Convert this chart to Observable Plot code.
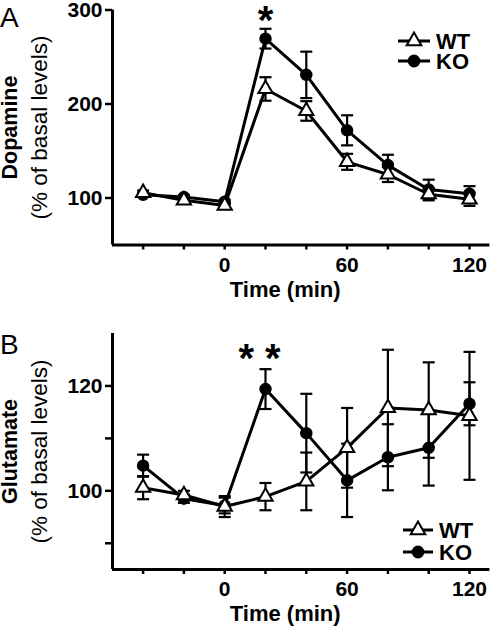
<!DOCTYPE html>
<html><head><meta charset="utf-8">
<script src="https://cdn.jsdelivr.net/npm/d3@7"></script>
<script src="https://cdn.jsdelivr.net/npm/@observablehq/plot@0.6"></script>
<style>
body{margin:0;background:#fff;}
#root{position:relative;width:492px;height:628px;background:#fff;font-family:"Liberation Sans",Arial,sans-serif;overflow:hidden;}
.panel{position:absolute;left:0;}
.legend{position:absolute;left:0;top:0;}
</style></head><body><div id="root"></div>
<script>
// ---- data ----
const times = [-40, -20, 0, 20, 40, 60, 80, 100, 120];
const xLabelTicks = [0, 60, 120];
const seriesNames = ["WT", "KO"];

// Panel A: Dopamine (% of basal levels)
const daWT    = [105.5, 97.5, 92.0, 216.0, 192.6, 138.5, 125.0, 104.0, 98.6];
const daWTsem = [2.5, 2.0, 2.0, 12.5, 10.4, 8.5, 8.0, 6.5, 7.0];
const daKO    = [103.5, 101.0, 96.0, 269.5, 231.0, 172.0, 135.0, 109.0, 104.6];
const daKOsem = [2.0, 2.0, 2.0, 10.5, 24.7, 16.0, 11.0, 10.5, 8.0];
const daYTicks = [100, 200, 300];
const daYLabels = [100, 200, 300];

// Panel B: Glutamate (% of basal levels)
const gluWT    = [100.6, 99.2, 97.0, 98.9, 101.8, 108.2, 115.8, 115.4, 114.3];
const gluWTsem = [2.2, 0.8, 2.0, 2.6, 5.5, 7.6, 11.1, 9.1, 12.2];
const gluKO    = [104.8, 98.5, 97.2, 119.4, 111.0, 102.0, 106.4, 108.2, 116.6];
const gluKOsem = [2.1, 0.8, 1.5, 3.8, 7.5, 7.0, 6.3, 7.2, 4.1];
const gluYTicks = [90, 100, 110, 120];
const gluYLabels = [100, 120];

const sigTimes = [20];
const sigA = "*";
const sigB = "* *";

const xDomain = [-55, 130];
const FONT = '"Liberation Sans", Arial, Helvetica, sans-serif';

const capSymbol = {
  draw(ctx, size) {
    const w = Math.sqrt(size / Math.PI);
    ctx.moveTo(-w, 0);
    ctx.lineTo(w, 0);
  }
};

function makePanel(cfg) {
  const rows = times.flatMap((t, i) => [
    {time: t, series: "WT", value: cfg.wt[i], sem: cfg.wtSem[i]},
    {time: t, series: "KO", value: cfg.ko[i], sem: cfg.koSem[i]}
  ]);
  const chart = Plot.plot({
    width: 492,
    height: cfg.height,
    marginLeft: 112,
    marginRight: 2.6,
    marginTop: cfg.marginTop,
    marginBottom: cfg.marginBottom,
    x: {domain: xDomain},
    y: {domain: cfg.yDomain},
    style: {fontFamily: FONT, background: "transparent", overflow: "visible", color: "black"},
    marks: [
      Plot.ruleX(rows, {x: "time", y1: d => d.value - d.sem, y2: d => d.value + d.sem, stroke: "black", strokeWidth: 2.2}),
      Plot.dot(rows, {x: "time", y: d => d.value + d.sem, symbol: capSymbol, r: 6, fill: "none", stroke: "black", strokeWidth: 2.2}),
      Plot.dot(rows, {x: "time", y: d => d.value - d.sem, symbol: capSymbol, r: 6, fill: "none", stroke: "black", strokeWidth: 2.2}),
      Plot.line(rows, {x: "time", y: "value", z: "series", stroke: "black", strokeWidth: 3}),
      Plot.dot(rows.filter(d => d.series === "KO"), {x: "time", y: "value", r: 5.5, symbol: "circle", fill: "black", stroke: "black"}),
      Plot.dot(rows.filter(d => d.series === "WT"), {x: "time", y: "value", r: 5.3, symbol: "triangle", fill: "white", stroke: "black", strokeWidth: 2}),
      Plot.ruleX([xDomain[0]], {stroke: "black", strokeWidth: 3}),
      Plot.ruleY([cfg.yDomain[0]], {stroke: "black", strokeWidth: 3}),
      Plot.axisY({ticks: cfg.yTicks, tickFormat: d => cfg.yLabels.includes(d) ? String(d) : "", tickSize: 7, tickPadding: 3, fontSize: 21, fontWeight: "bold", strokeWidth: 2.5, label: null}),
      Plot.axisX({ticks: times, tickFormat: d => xLabelTicks.includes(d) ? String(d) : "", tickSize: 5, tickPadding: 7, fontSize: 21, fontWeight: "bold", strokeWidth: 2.5, label: null}),
      Plot.text(["Time (min)"], {frameAnchor: "bottom", textAnchor: "middle", lineAnchor: "middle", dx: -16, dy: 44.5, fontSize: 22, fontWeight: "bold", fill: "black"}),
      Plot.text([cfg.yTitle], {frameAnchor: "left", rotate: -90, textAnchor: "middle", lineAnchor: "middle", dx: -102, fontSize: 21.5, fontWeight: "bold", fill: "black"}),
      Plot.text([cfg.ySub], {frameAnchor: "left", rotate: -90, textAnchor: "middle", lineAnchor: "middle", dx: -73, fontSize: 22.5, fontWeight: "normal", fill: "black"}),
      Plot.text(sigTimes, {x: d => d, frameAnchor: "top", text: () => cfg.sig, textAnchor: "middle", lineAnchor: "top", dx: cfg.sigDx, dy: cfg.sigDy, fontSize: 40, fontWeight: "bold", fill: "black"})
    ]
  });
  chart.classList.add("panel");
  chart.style.top = cfg.top + "px";
  // panel letter, placed in the left margin of the panel
  d3.select(chart).append("text")
    .attr("x", 0).attr("y", cfg.marginTop + cfg.letterDy).attr("dy", "0.36em")
    .attr("text-anchor", "start")
    .attr("font-family", FONT).attr("font-size", 28).attr("fill", "black")
    .text(cfg.letter);
  return chart;
}

function makeLegend(svg, x0, x1, tx, yWT, yKO) {
  const g = svg.append("g").attr("stroke", "black");
  const items = [{name: seriesNames[0], y: yWT}, {name: seriesNames[1], y: yKO}];
  for (const it of items) {
    g.append("line").attr("x1", x0).attr("x2", x1).attr("y1", it.y).attr("y2", it.y).attr("stroke-width", 3);
    const sym = it.name === "WT" ? d3.symbolTriangle : d3.symbolCircle;
    const size = Math.PI * 5.4 * 5.4;
    g.append("path")
      .attr("d", d3.symbol(sym, size)())
      .attr("transform", `translate(${(x0 + x1) / 2},${it.y})`)
      .attr("fill", it.name === "WT" ? "white" : "black")
      .attr("stroke-width", 2);
    svg.append("text").attr("x", tx).attr("y", it.y).attr("dy", "0.36em")
      .attr("text-anchor", "start")
      .attr("font-family", FONT).attr("font-size", 22).attr("font-weight", "bold")
      .text(it.name);
  }
}

const root = document.getElementById("root");
root.appendChild(makePanel({
  wt: daWT, wtSem: daWTsem, ko: daKO, koSem: daKOsem,
  yDomain: [50, 300], yTicks: daYTicks, yLabels: daYLabels,
  top: 0, height: 300, marginTop: 9.5, marginBottom: 55.5,
  yTitle: "Dopamine", ySub: "(% of basal levels)", letter: "A", letterDy: 7.5,
  sig: sigA, sigDx: 0, sigDy: -4
}));
root.appendChild(makePanel({
  wt: gluWT, wtSem: gluWTsem, ko: gluKO, koSem: gluKOsem,
  yDomain: [85, 130], yTicks: gluYTicks, yLabels: gluYLabels,
  top: 300, height: 328, marginTop: 33, marginBottom: 59,
  yTitle: "Glutamate", ySub: "(% of basal levels)", letter: "B", letterDy: 11,
  sig: sigB, sigDx: -6, sigDy: 10
}));

const leg = d3.select(root).append("svg").attr("class", "legend")
  .attr("width", 492).attr("height", 628).style("overflow", "visible");
makeLegend(leg, 398, 430, 436, 41, 61);
makeLegend(leg, 403, 433, 439, 530, 552);
</script></body></html>
